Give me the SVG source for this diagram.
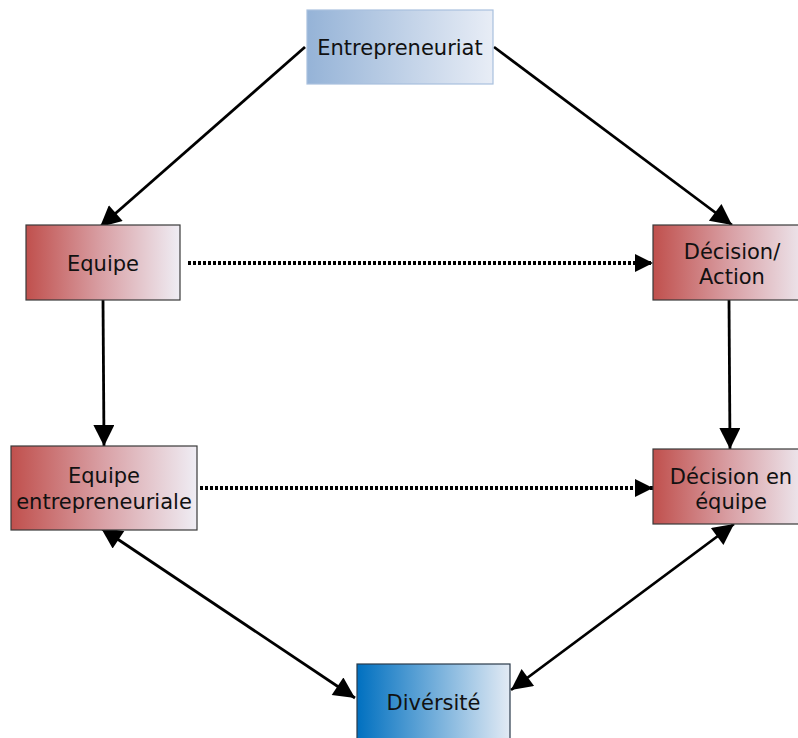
<svg xmlns="http://www.w3.org/2000/svg" width="798" height="738" viewBox="0 0 798 738">
<style>
.lbl{font-family:"DejaVu Sans","Verdana",sans-serif;font-size:21px;fill:#111;text-anchor:middle}
.red{fill:url(#gRed);stroke:#3a3a3a;stroke-width:1.2}
.conn{stroke:#000;stroke-width:2.8;fill:none}
.dot{stroke:#000;stroke-width:4;stroke-dasharray:3 2;fill:none}
</style>
<defs>
<linearGradient id="gRed" x1="0" y1="0" x2="1" y2="0">
<stop offset="0" stop-color="#C0504D"/>
<stop offset="0.5" stop-color="#D9A1A6"/>
<stop offset="1" stop-color="#EFEDF4"/>
</linearGradient>
<linearGradient id="gBlueL" x1="0" y1="0" x2="1" y2="0">
<stop offset="0" stop-color="#95B3D7"/>
<stop offset="1" stop-color="#E8EDF6"/>
</linearGradient>
<linearGradient id="gBlueD" x1="0" y1="0" x2="1" y2="0">
<stop offset="0" stop-color="#0070C0"/>
<stop offset="1" stop-color="#E2EAF4"/>
</linearGradient>
<marker id="ah" viewBox="0 0 10 10" refX="10" refY="5" markerWidth="8.5" markerHeight="7.5" orient="auto" markerUnits="strokeWidth">
<path d="M0,0 L10,5 L0,10 Z" fill="#000"/>
</marker>
<marker id="ahs" viewBox="0 0 10 10" refX="0" refY="5" markerWidth="8.5" markerHeight="7.5" orient="auto" markerUnits="strokeWidth">
<path d="M10,0 L0,5 L10,10 Z" fill="#000"/>
</marker>
<marker id="ahd" viewBox="0 0 10 10" refX="10" refY="5" markerWidth="5" markerHeight="4.5" orient="auto" markerUnits="strokeWidth">
<path d="M0,0 L10,5 L0,10 Z" fill="#000"/>
</marker>
</defs>
<rect width="798" height="738" fill="#fff"/>
<g id="connectors">
<line class="conn" x1="305" y1="47" x2="100" y2="227" marker-end="url(#ah)"/>
<line class="conn" x1="494" y1="47" x2="732" y2="225" marker-end="url(#ah)"/>
<line class="conn" x1="103" y1="300" x2="104" y2="446" marker-end="url(#ah)"/>
<line class="conn" x1="729" y1="300" x2="730" y2="449" marker-end="url(#ah)"/>
<line class="dot" x1="188" y1="263" x2="653" y2="263" marker-end="url(#ahd)"/>
<line class="dot" x1="200" y1="488" x2="653" y2="488" marker-end="url(#ahd)"/>
<line class="conn" x1="101" y1="528" x2="355" y2="698" marker-start="url(#ahs)" marker-end="url(#ah)"/>
<line class="conn" x1="734" y1="524" x2="511" y2="690" marker-start="url(#ahs)" marker-end="url(#ah)"/>
</g>
<g id="n-entrepreneuriat">
<rect x="307" y="10" width="186" height="74" fill="url(#gBlueL)" stroke="#A9C0DE" stroke-width="1.2"/>
<text class="lbl" x="400" y="55">Entrepreneuriat</text>
</g>
<g id="n-equipe">
<rect class="red" x="26" y="225" width="154" height="75"/>
<text class="lbl" x="103" y="271">Equipe</text>
</g>
<g id="n-decision-action">
<rect class="red" x="653" y="225" width="158" height="75"/>
<text class="lbl" x="732" y="259">Décision/</text>
<text class="lbl" x="732" y="284">Action</text>
</g>
<g id="n-equipe-entrepreneuriale">
<rect class="red" x="11" y="446" width="186" height="84"/>
<text class="lbl" x="104" y="483">Equipe</text>
<text class="lbl" x="104" y="509">entrepreneuriale</text>
</g>
<g id="n-decision-equipe">
<rect class="red" x="653" y="449" width="156" height="75"/>
<text class="lbl" x="731" y="484">Décision en</text>
<text class="lbl" x="731" y="509">équipe</text>
</g>
<g id="n-diversite">
<rect x="357" y="664" width="153" height="80" fill="url(#gBlueD)" stroke="#2a3a4a" stroke-width="1.2"/>
<text class="lbl" x="433.5" y="710">Divérsité</text>
</g>
</svg>
